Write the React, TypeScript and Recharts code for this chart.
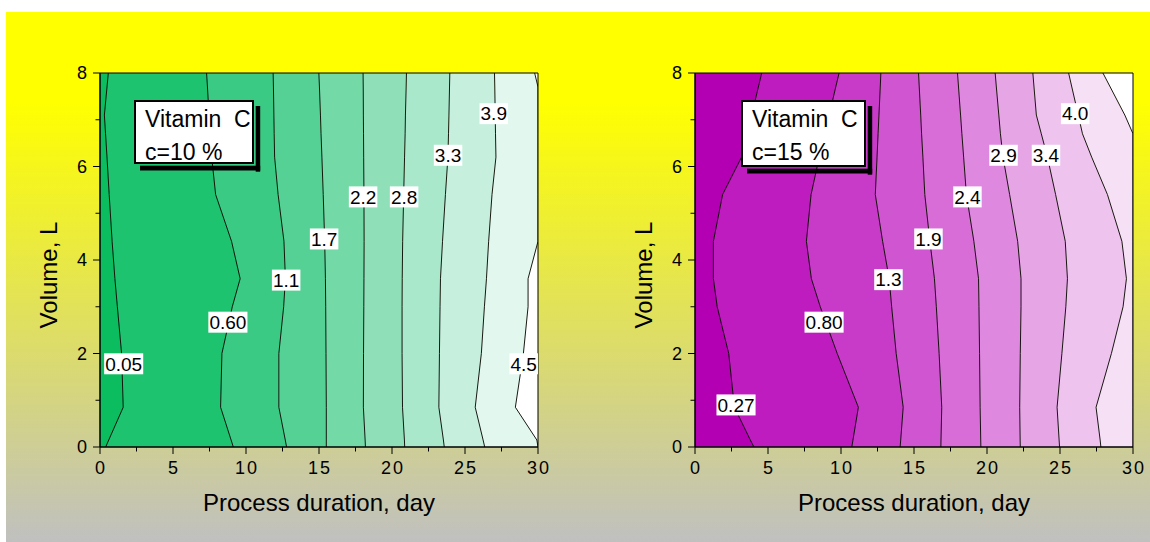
import React from 'react'
import { ComposedChart, Area, Line, XAxis, YAxis, ReferenceDot, ReferenceArea } from 'recharts'

const FONT = '"Liberation Sans", Arial, Helvetica, sans-serif'

// volume grid (L) where every contour line is sampled
const VOL = [0, 0.15, 0.85, 2, 3, 3.6, 4.4, 5.4, 6.2, 6.7, 7.1, 7.7, 8]

// c = 10 % : contour line position (day) at each VOL
const c10_005 = [0.39, 0.6, 1.59, 1.48, 1.19, 1.02, 0.83, 0.63, 0.48, 0.38, 0.3, 0.48, 0.57]
const c10_060 = [9.13, 8.98, 8.26, 8.35, 9.06, 9.6, 9.01, 7.92, 7.65, 7.55, 7.47, 7.36, 7.3]
const c10_11 = [12.78, 12.69, 12.25, 12.25, 12.58, 12.7, 12.6, 12.2, 11.96, 11.93, 11.91, 11.88, 11.86]
const c10_17 = [15.5, 15.5, 15.5, 15.48, 15.46, 15.44, 15.39, 15.29, 15.2, 15.14, 15.1, 15.03, 14.99]
const c10_22 = [18.18, 18.16, 18.04, 18.05, 18.07, 18.08, 18.09, 18.08, 18.06, 18.05, 18.04, 18.03, 18.02]
const c10_28 = [20.87, 20.85, 20.72, 20.69, 20.69, 20.7, 20.73, 20.8, 20.86, 20.9, 20.92, 20.97, 20.99]
const c10_33 = [23.58, 23.52, 23.21, 23.25, 23.29, 23.32, 23.46, 23.66, 23.83, 23.87, 23.9, 23.94, 23.96]
const c10_39 = [26.35, 26.24, 25.7, 26.12, 26.33, 26.47, 26.62, 26.85, 27.12, 27.09, 27.07, 27.04, 27.02]
const c10_45 = [30, 29.92, 28.45, 29.0, 29.32, 29.32, 30, 30, 30, 30, 30, 30, 29.77]

// c = 15 %
const c15_027 = [4.04, 3.79, 2.7, 2.31, 1.52, 1.26, 1.26, 1.89, 3.19, 3.57, 3.88, 4.34, 4.57]
const c15_080 = [10.74, 10.82, 11.19, 9.74, 8.58, 7.97, 7.63, 7.95, 8.51, 8.89, 9.19, 9.64, 9.87]
const c15_13 = [14.05, 14.09, 14.26, 13.78, 13.47, 13.3, 12.85, 12.35, 12.47, 12.54, 12.6, 12.69, 12.73]
const c15_19 = [16.84, 16.85, 16.9, 16.72, 16.53, 16.4, 16.09, 15.74, 15.61, 15.52, 15.46, 15.36, 15.31]
const c15_24 = [19.58, 19.57, 19.53, 19.49, 19.45, 19.42, 19.1, 18.59, 18.4, 18.28, 18.19, 18.05, 17.98]
const c15_29 = [22.28, 22.27, 22.24, 22.28, 22.33, 22.33, 22.1, 21.55, 21.1, 20.92, 20.81, 20.64, 20.56]
const c15_34 = [24.97, 24.94, 24.8, 25.13, 25.4, 25.51, 25.36, 24.7, 24.14, 23.72, 23.38, 23.22, 23.14]
const c15_40 = [27.8, 27.75, 27.47, 28.52, 29.32, 29.55, 29.24, 28.25, 27.17, 26.54, 26.25, 25.81, 25.59]
const c15_46 = [30, 30, 30, 30, 30, 30, 30, 30, 30, 30, 29.44, 28.44, 27.94]

// contour labels: text, day, volume
const LABEL_10 = ['0.05', '0.60', '1.1', '1.7', '2.2', '2.8', '3.3', '3.9', '4.5']
const LABEL_10_DAY = [1.62, 8.76, 12.75, 15.35, 18.02, 20.83, 23.84, 26.97, 29.02]
const LABEL_10_VOL = [1.78, 2.67, 3.57, 4.45, 5.35, 5.35, 6.24, 7.13, 1.78]

const LABEL_15 = ['0.27', '0.80', '1.3', '1.9', '2.4', '2.9', '3.4', '4.0']
const LABEL_15_DAY = [2.81, 8.84, 13.25, 15.99, 18.66, 21.13, 24.04, 26.04]
const LABEL_15_VOL = [0.9, 2.67, 3.58, 4.45, 5.35, 6.24, 6.24, 7.13]

const X_TICKS = [0, 2.5, 5, 7.5, 10, 12.5, 15, 17.5, 20, 22.5, 25, 27.5, 30]
const Y_TICKS = [0, 1, 2, 3, 4, 5, 6, 7, 8]

const GREEN = ['#0cbd60', '#1ec370', '#3bca83', '#56d195', '#72d9a7', '#8fe0b9', '#aae8cb', '#c6efdd', '#e2f7ee', '#ffffff']
const MAGENTA = ['#b300b3', '#bf1cbf', '#c83ac8', '#d055d0', '#d86dd8', '#df88df', '#e6a6e6', '#eec4ee', '#f6e0f6', '#ffffff']

function buildRows(lines: number[][]) {
  return VOL.map((v, i) => {
    const row: any = { v }
    lines.forEach((ln, k) => {
      row['l' + k] = ln[i]
    })
    for (let k = 0; k <= lines.length; k++) {
      const lo = k === 0 ? 0 : lines[k - 1][i]
      const hi = k === lines.length ? 30 : lines[k][i]
      row['b' + k] = [lo, hi]
    }
    return row
  })
}

const XTick = (p: any) => {
  const { x, y, payload } = p
  const major = payload.value % 5 === 0
  const axisY = y - 14
  return (
    <g>
      <line x1={x} x2={x} y1={axisY} y2={axisY + (major ? 7 : 4.5)} stroke="#000" />
      {major && (
        <text x={x + 1} y={y} dy="0.71em" textAnchor="middle" fontSize={18} letterSpacing={2} fontFamily={FONT} fill="#000">
          {payload.value}
        </text>
      )}
    </g>
  )
}

const YTick = (p: any) => {
  const { x, y, payload } = p
  const major = payload.value % 2 === 0
  const axisX = x + 13
  return (
    <g>
      <line x1={axisX - (major ? 7 : 4.5)} x2={axisX} y1={y} y2={y} stroke="#000" />
      {major && (
        <text x={x} y={y} dy="0.355em" textAnchor="end" fontSize={18} fontFamily={FONT} fill="#000">
          {payload.value}
        </text>
      )}
    </g>
  )
}

// white box with the contour value on top of the line
function labelBox(text: string) {
  return (p: any) => {
    const w = text.split('').reduce((s, ch) => s + (ch === '.' ? 5.3 : 10.6), 0) + 2
    return (
      <g>
        <rect x={p.cx - w / 2} y={p.cy - 10.5} width={w} height={21} fill="#fff" />
        <text x={p.cx} y={p.cy + 6.8} textAnchor="middle" fontSize={19} fontFamily={FONT} fill="#000">
          {text}
        </text>
      </g>
    )
  }
}

function Legend({ x, y, w, h, conc }: { x: number; y: number; w: number; h: number; conc: string }) {
  return (
    <svg width={575} height={542} style={{ position: 'absolute', left: 0, top: 0, pointerEvents: 'none' }}>
      <rect x={x + w + 1.7} y={y + 6} width={4.5} height={h + 1.7} fill="#000" />
      <rect x={x + 6} y={y + h + 1.7} width={w + 0.2} height={4.8} fill="#000" />
      <rect x={x + 1} y={y + 1} width={w - 2} height={h - 2} fill="#fff" stroke="#000" strokeWidth={2} />
      <text x={x + 11} y={y + 27} fontSize={23} fontFamily={FONT} fill="#000" style={{ whiteSpace: 'pre' }}>
        {'Vitamin  C'}
      </text>
      <text x={x + 11} y={y + 59.6} fontSize={23} fontFamily={FONT} fill="#000" style={{ whiteSpace: 'pre' }}>
        {'c=' + conc + ' %'}
      </text>
    </svg>
  )
}

function Panel(props: {
  left: number
  margin: { top: number; right: number; bottom: number; left: number }
  lines: number[][]
  colors: string[]
  labels: string[]
  labelDay: number[]
  labelVol: number[]
  legend: { x: number; y: number; w: number; h: number; conc: string }
}) {
  const { left, margin, lines, colors, labels, labelDay, labelVol, legend } = props
  const rows = buildRows(lines)
  return (
    <div style={{ position: 'absolute', left, top: 0, width: 575, height: 542 }}>
      <ComposedChart width={575} height={542} data={rows} layout="vertical" margin={margin}>
        <XAxis
          type="number"
          domain={[0, 30]}
          ticks={X_TICKS}
          interval={0}
          allowDataOverflow
          height={60}
          tickSize={7}
          tickMargin={7}
          tickLine={false}
          tick={(p: any) => <XTick {...p} />}
          axisLine={{ stroke: '#000' }}
          label={{
            content: (p: any) => (
              <text x={p.viewBox.x + p.viewBox.width / 2} y={p.viewBox.y + 64} textAnchor="middle" fontSize={24} fontFamily={FONT} fill="#000">
                Process duration, day
              </text>
            ),
          }}
        />
        <YAxis
          type="number"
          dataKey="v"
          domain={[0, 8]}
          reversed
          ticks={Y_TICKS}
          interval={0}
          allowDataOverflow
          width={60}
          tickSize={7}
          tickMargin={6}
          tickLine={false}
          tick={(p: any) => <YTick {...p} />}
          axisLine={{ stroke: '#000' }}
          label={{
            content: (p: any) => {
              const tx = p.viewBox.x + 16.5
              const ty = 275
              return (
                <text x={tx} y={ty} transform={`rotate(-90 ${tx} ${ty})`} textAnchor="middle" fontSize={24} fontFamily={FONT} fill="#000">
                  Volume, L
                </text>
              )
            },
          }}
        />
        {colors.map((c, k) => (
          <Area key={'b' + k} dataKey={'b' + k} type="linear" fill={c} fillOpacity={1} stroke="none" isAnimationActive={false} />
        ))}
        {lines.map((_, k) => (
          <Line key={'l' + k} dataKey={'l' + k} type="linear" stroke="#000" strokeWidth={0.9} dot={false} isAnimationActive={false} />
        ))}
        <ReferenceArea x1={0} x2={30} y1={0} y2={8} fill="none" stroke="#000" strokeWidth={1} {...({ zIndex: 700 } as any)} />
        {labels.map((t, i) => (
          <ReferenceDot key={t} x={labelDay[i]} y={labelVol[i]} r={0} shape={labelBox(t)} {...({ zIndex: 800 } as any)} />
        ))}
      </ComposedChart>
      <Legend {...legend} />
    </div>
  )
}

export default function App() {
  return (
    <div style={{ position: 'absolute', left: 0, top: 0, width: 1150, height: 542, background: '#fff', overflow: 'hidden' }}>
      <div
        style={{
          position: 'absolute',
          left: 6,
          top: 12,
          width: 1144,
          height: 530,
          background: 'linear-gradient(to bottom, #ffff00 0%, #ffff00 17%, #c0c0c0 100%)',
        }}
      />
      <Panel
        left={0}
        margin={{ top: 73, right: 37, bottom: 35, left: 40 }}
        lines={[c10_005, c10_060, c10_11, c10_17, c10_22, c10_28, c10_33, c10_39, c10_45]}
        colors={GREEN}
        labels={LABEL_10}
        labelDay={LABEL_10_DAY}
        labelVol={LABEL_10_VOL}
        legend={{ x: 134, y: 100, w: 120, h: 64, conc: '10' }}
      />
      <Panel
        left={575}
        margin={{ top: 73, right: 17, bottom: 35, left: 60 }}
        lines={[c15_027, c15_080, c15_13, c15_19, c15_24, c15_29, c15_34, c15_40, c15_46]}
        colors={MAGENTA}
        labels={LABEL_15}
        labelDay={LABEL_15_DAY}
        labelVol={LABEL_15_VOL}
        legend={{ x: 166, y: 100, w: 125, h: 67, conc: '15' }}
      />
    </div>
  )
}
